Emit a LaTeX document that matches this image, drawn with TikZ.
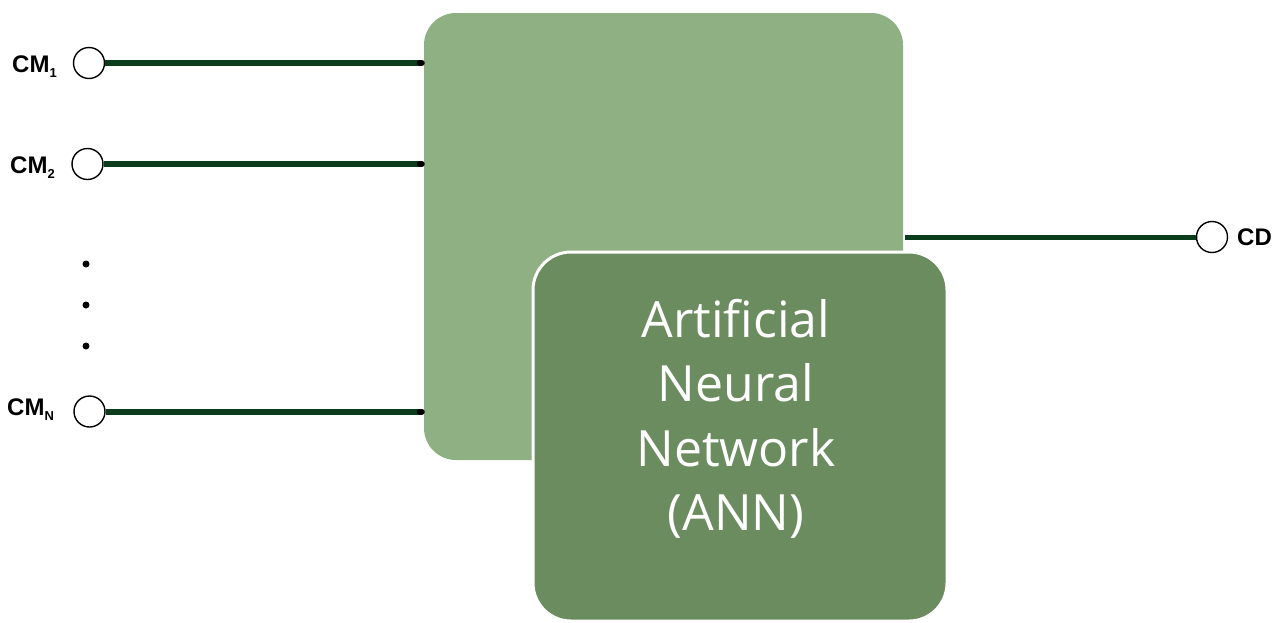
\documentclass[tikz,border=0pt]{standalone}
\usepackage{fontspec}
\setmainfont{Liberation Sans}
\newfontfamily\annfont{Open Sans}
\definecolor{lightg}{HTML}{8FB082}
\definecolor{darkg}{HTML}{6B8C5F}
\definecolor{wireg}{HTML}{0B3D1C}
\newcommand\subs[1]{\raisebox{-5pt}{\fontsize{13pt}{13pt}\selectfont #1}}
\begin{document}
\begin{tikzpicture}[x=1pt,y=-1pt,
  lightbox/.style={fill=lightg, rounded corners=32pt, minimum width=479pt, minimum height=447pt, inner sep=0pt},
  darkbox/.style={fill=darkg, draw=white, line width=3pt, rounded corners=38pt, minimum width=414pt, minimum height=369pt, inner sep=0pt},
  anntext/.style={text=white, align=center, font=\annfont\fontsize{50pt}{64.5pt}\selectfont},
  term/.style={circle, draw=black, line width=1.4pt, fill=white, minimum size=31pt, inner sep=0pt},
  lab/.style={font=\bfseries\fontsize{24pt}{24pt}\selectfont, inner sep=0pt, anchor=base west},
  wire/.style={draw=wireg, line width=6pt},
  nib/.style={draw=black, line width=6pt, line cap=round}]
\useasboundingbox (0,0) rectangle (1279,622);
% boxes
\node[lightbox] (mod) at (663.5,236.5) {};
\node[darkbox] (ann) at (740,436.5) {};
\node[anntext] (anntxt) at (736,419) {Artificial\\Neural\\Network\\(ANN)};
% terminals
\node[term] (c1) at (89,63) {};
\node[term] (c2) at (87.5,164) {};
\node[term] (cn) at (89.5,411.5) {};
\node[term] (cd) at (1212,237) {};
% labels
\node[lab] (l1) at (12,72) {CM\subs{1}};
\node[lab] (l2) at (10,173) {CM\subs{2}};
\node[lab] (ln) at (7,415) {CM\subs{N}};
\node[lab] (lcd) at (1237,245) {CD};
% wires
\foreach \c in {c1,c2,cn}{
  \draw[wire] (\c.east) -- ([xshift=-3pt]\c.east -| mod.west);
  \draw[nib] ([xshift=-4pt]\c.east -| mod.west) -- ([xshift=-2pt]\c.east -| mod.west);
}
\draw[wire, line width=5pt] ([xshift=2pt]mod.east |- cd.west) -- (cd.west);
% dots
\fill (86,264) circle (3.5pt);
\fill (86,305) circle (3.5pt);
\fill (86,346) circle (3.5pt);
\end{tikzpicture}
\end{document}
